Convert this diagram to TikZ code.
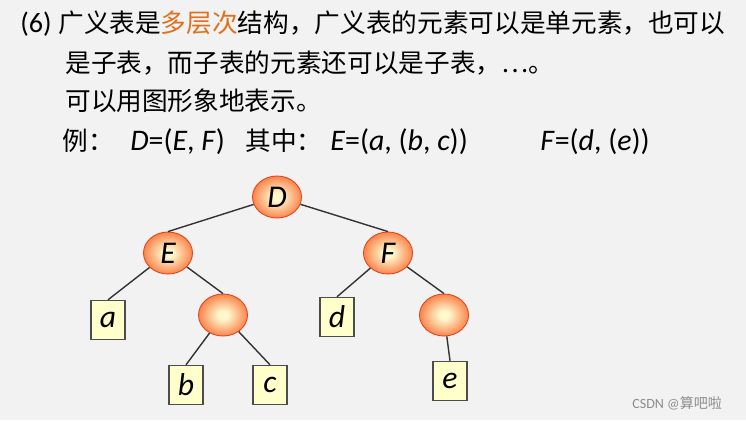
\documentclass[tikz,border=0pt]{standalone}
\usepackage{fontspec}
\setmainfont{Carlito}
\newfontfamily\cjk{Noto Sans CJK SC}
\usetikzlibrary{shapes.geometric}
\definecolor{bgray}{HTML}{F2F2F2}
\definecolor{hiorange}{HTML}{E0701E}
\definecolor{ballpale}{HTML}{FFF8CC}
\definecolor{ballmid}{HTML}{FB8A52}
\definecolor{ballred}{HTML}{F04A22}
\definecolor{ballrim}{HTML}{E0441C}
\definecolor{leafyellow}{HTML}{FFFFCC}
\pgfdeclareradialshading{ballshade}{\pgfpoint{0bp}{0bp}}{color(0bp)=(ballpale); color(5bp)=(ballpale); color(24bp)=(ballmid); color(50bp)=(ballred)}

\begin{document}
\begin{tikzpicture}[x=0.02cm,y=-0.02cm,
  txt/.style={anchor=base west,inner sep=0pt,font=\fontsize{17}{20}\selectfont},
  cjktxt/.style={anchor=base west,inner sep=0pt,font=\cjk\fontsize{14.6}{18}\selectfont},
  ball/.style={ellipse,draw=ballrim,line width=0.5pt,shading=ballshade,minimum width=0.98cm,minimum height=0.84cm,inner sep=0pt,font=\fontsize{18}{20}\selectfont\itshape},
  leaf/.style={rectangle,draw=black!70,fill=leafyellow,line width=0.8pt,minimum width=0.68cm,minimum height=0.78cm,inner sep=0pt,font=\fontsize{18}{20}\selectfont\itshape},
  link/.style={draw=black!80,line width=0.8pt}]
  \fill[bgray] (0,0) rectangle (746,420);
  % text
  \node[txt,font=\fontsize{16}{20}\selectfont] (num) at (20,32) {(6)};
  \node[cjktxt] (l1) at (58,32) {广义表是\textcolor{hiorange}{多层次}结构，广义表的元素可以是单元素，也可以};
  \node[cjktxt] (l2) at (65,72) {是子表，而子表的元素还可以是子表，…。};
  \node[cjktxt] (l3) at (65,110) {可以用图形象地表示。};
  \node[cjktxt] (ex) at (62,150) {例：};
  \node[txt] (dlist) at (130,150) {\textit{D}=(\textit{E}, \textit{F})};
  \node[cjktxt] (where) at (245,150) {其中：};
  \node[txt] (elist) at (330,150) {\textit{E}=(\textit{a}, (\textit{b}, \textit{c}))};
  \node[txt] (flist) at (540,150) {\textit{F}=(\textit{d}, (\textit{e}))};
  % tree
  \node[ball] (D) at (277,197) {D};
  \node[ball] (E) at (168,253) {E};
  \node[ball] (F) at (388,253) {F};
  \node[ball] (sub1) at (223,315) {};
  \node[ball] (sub2) at (444,315) {};
  \node[leaf] (a) at (108,320) {a};
  \node[leaf] (b) at (186,385) {b};
  \node[leaf] (c) at (270,385) {c};
  \node[leaf] (d) at (337,317) {d};
  \node[leaf] (e) at (450,381) {e};
  \draw[link] (D) -- (E.north);
  \draw[link] (D) -- (F.north);
  \draw[link] (E) -- (a.north);
  \draw[link] (E) -- (sub1.north);
  \draw[link] (sub1) -- (b.north);
  \draw[link] (sub1) -- (c.north);
  \draw[link] (F) -- (d.north);
  \draw[link] (F) -- (sub2.north);
  \draw[link] (sub2) -- (e.north);
  \node[txt,font=\fontsize{8}{10}\selectfont,text=black!45] (mark) at (632,408) {CSDN @{\cjk 算吧啦}};
\end{tikzpicture}
\end{document}
